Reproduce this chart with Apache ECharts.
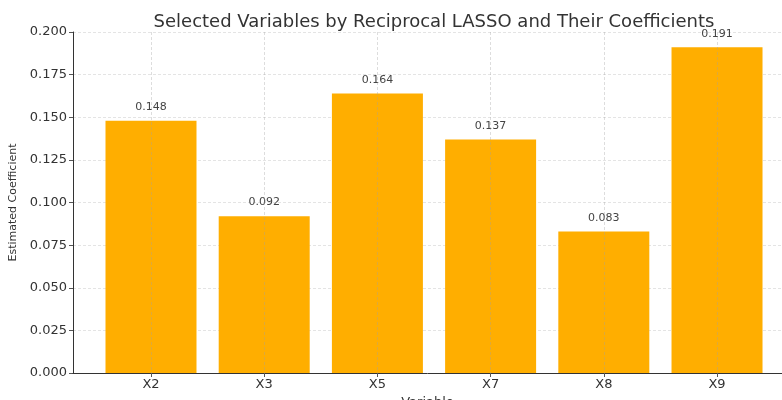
<!DOCTYPE html>
<html>
<head>
<meta charset="utf-8">
<script src="https://cdn.jsdelivr.net/npm/echarts@6/dist/echarts.min.js"></script>
<style>html,body{margin:0;padding:0;background:#fff}#c{width:782px;height:400px}</style>
</head>
<body>
<div id="c"></div>
<script>
const categories = ['X2', 'X3', 'X5', 'X7', 'X8', 'X9'];
const coefficients = [0.148, 0.092, 0.164, 0.137, 0.083, 0.191];
const yTicks = [0, 0.025, 0.05, 0.075, 0.1, 0.125, 0.15, 0.175, 0.2];

const chart = echarts.init(document.getElementById('c'), null, {renderer: 'canvas'});
const font = 'DejaVu Sans';
chart.setOption({
  animation: false,
  backgroundColor: '#fff',
  title: {
    text: 'Selected Variables by Reciprocal LASSO and Their Coefficients',
    left: 429, textAlign: 'center', top: 8,
    textStyle: {fontFamily: font, fontSize: 18, fontWeight: 'normal', color: '#333'}
  },
  grid: {left: 73, right: 0, top: 32, bottom: 27, outerBoundsMode: 'none', containLabel: false},
  xAxis: {
    type: 'value', min: -0.689, max: 5.574, z: 3,
    name: 'Variable', nameLocation: 'middle', nameGap: 19,
    nameTextStyle: {fontFamily: font, fontSize: 13, color: '#333'},
    axisLine: {show: true, onZero: false, lineStyle: {color: '#333', width: 1}},
    axisTick: {show: true, length: 4, lineStyle: {color: '#555'}, customValues: categories.map((c, i) => i)},
    axisLabel: {customValues: categories.map((c, i) => i), formatter: v => categories[Math.round(v)] || '',
      fontFamily: font, fontSize: 13, color: '#333', margin: 5},
    splitLine: {show: true, lineStyle: {color: 'rgba(160,160,160,0.45)', type: [3, 2], width: 0.8}}
  },
  yAxis: {
    type: 'value', min: 0, max: 0.2, interval: 0.025,
    name: 'Estimated Coefficient', nameLocation: 'middle', nameGap: 52, nameRotate: 90,
    nameTextStyle: {fontFamily: font, fontSize: 11, color: '#333'},
    axisLine: {show: true, onZero: false, lineStyle: {color: '#333', width: 1}},
    axisTick: {show: true, length: 4, lineStyle: {color: '#555'}},
    axisLabel: {formatter: v => v.toFixed(3), fontFamily: font, fontSize: 13, color: '#333', margin: 6},
    splitLine: {show: true, lineStyle: {color: '#ddd', type: [3, 2], width: 0.8}}
  },
  series: [{
    type: 'bar',
    data: coefficients.map((v, i) => [i, v]),
    barWidth: 91,
    itemStyle: {color: '#FFAE00'},
    label: {show: true, position: 'top', distance: 8, formatter: p => p.value[1].toFixed(3),
      fontFamily: font, fontSize: 11, color: '#444'}
  }]
});
</script>
</body>
</html>
